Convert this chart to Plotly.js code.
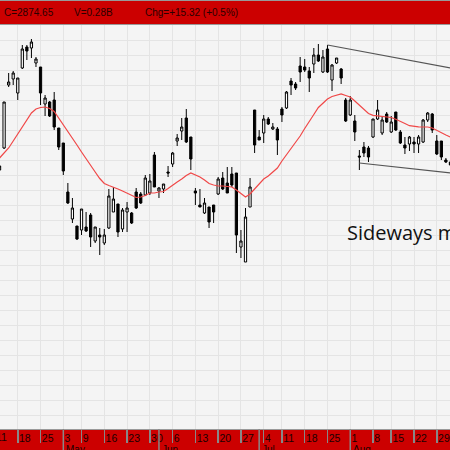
<!DOCTYPE html>
<html><head><meta charset="utf-8">
<script src="https://cdn.plot.ly/plotly-3.0.1.min.js"></script>
<style>html,body{margin:0;padding:0;background:#cc0000;}#chart{width:450px;height:450px;}</style>
</head><body><div id="chart"></div>
<script>
const dates = [
'2011-04-12','2011-04-13','2011-04-14','2011-04-15',
'2011-04-18','2011-04-19','2011-04-20','2011-04-21','2011-04-22',
'2011-04-25','2011-04-26','2011-04-27','2011-04-28','2011-04-29',
'2011-05-03','2011-05-04','2011-05-05','2011-05-06',
'2011-05-09','2011-05-10','2011-05-11','2011-05-12','2011-05-13',
'2011-05-16','2011-05-17','2011-05-18','2011-05-19','2011-05-20',
'2011-05-23','2011-05-24','2011-05-25','2011-05-26','2011-05-27',
'2011-05-30','2011-05-31','2011-06-01','2011-06-02','2011-06-03',
'2011-06-06','2011-06-07','2011-06-08','2011-06-09','2011-06-10',
'2011-06-13','2011-06-14','2011-06-15','2011-06-16','2011-06-17',
'2011-06-20','2011-06-21','2011-06-22','2011-06-23','2011-06-24',
'2011-06-27','2011-06-28','2011-06-29','2011-06-30','2011-07-01',
'2011-07-04','2011-07-05','2011-07-06','2011-07-07',
'2011-07-11','2011-07-12','2011-07-13','2011-07-14','2011-07-15',
'2011-07-18','2011-07-19','2011-07-20','2011-07-21','2011-07-22',
'2011-07-25','2011-07-26','2011-07-27','2011-07-28','2011-07-29',
'2011-08-01','2011-08-02','2011-08-03','2011-08-04','2011-08-05',
'2011-08-08','2011-08-09','2011-08-10','2011-08-11',
'2011-08-15','2011-08-16','2011-08-17','2011-08-18','2011-08-19',
'2011-08-22','2011-08-23','2011-08-24','2011-08-25','2011-08-26',
'2011-08-29','2011-08-30','2011-08-31','2011-09-01'];

const openP = [2875,2897,2960,2966,2952,2977,2998,2997,2982,2978,
2941,2943,2945,2917,2902,2853,2826,2819,2815,2818,
2830,2804,2810,2802,2817,2833,2841,2816,2833,2832,
2853,2851,2850,2852,2890,2854,2856,2873,2881,2904,
2914,2927,2908,2854,2840,2832,2838,2840,2851,2867,
2862,2871,2872,2798,2783,2838,2935,2908,2912,2926,
2916,2916,2936,2937,2964,2961,2979,2978,2974,2981,
2990,2973,2996,2965,2982,2976,2945,2930,2924,2889,
2898,2897,2908,2926,2912,2931,2913,2933,2913,2900,
2901,2903,2901,2903,2925,2931,2904,2904,2885,2883];

const highP = [2880,2943,2972,2974,2967,3000,3000,3006,2988,2978,
2950,2944,2953,2917,2902,2862,2847,2819,2836,2833,
2832,2818,2817,2816,2856,2858,2841,2837,2843,2833,
2857,2853,2870,2871,2893,2858,2861,2879,2893,2911,
2927,2936,2908,2857,2856,2847,2838,2840,2868,2873,
2878,2878,2872,2815,2837,2867,2935,2915,2930,2928,
2922,2918,2938,2954,2967,2963,2988,2986,2978,2997,
3001,2995,3000,2981,2987,2977,2947,2949,2930,2895,
2903,2899,2926,2945,2928,2933,2929,2933,2915,2908,
2909,2908,2910,2926,2933,2932,2910,2904,2887,2885];

const lowP = [2874,2896,2958,2960,2945,2976,2985,2987,2978,2940,
2929,2928,2915,2895,2870,2841,2822,2805,2810,2813,
2798,2802,2790,2800,2816,2833,2808,2813,2813,2821,
2836,2841,2849,2850,2858,2847,2852,2868,2878,2899,
2905,2902,2875,2840,2838,2831,2817,2822,2850,2855,
2852,2858,2792,2787,2783,2838,2892,2905,2902,2920,
2915,2890,2923,2936,2950,2955,2963,2973,2953,2972,
2983,2972,2972,2954,2981,2961,2923,2929,2904,2875,
2888,2883,2907,2925,2910,2922,2912,2914,2901,2891,
2894,2892,2892,2902,2923,2912,2890,2885,2882,2879];

const closeP = [2879,2943,2963,2972,2967,2996,2994,3003,2986,2952,
2947,2929,2918,2898,2874,2842,2837,2806,2836,2814,
2808,2818,2808,2810,2849,2846,2813,2835,2837,2822,
2837,2842,2867,2864,2858,2857,2861,2872,2892,2907,
2918,2903,2886,2852,2838,2842,2823,2833,2866,2856,
2852,2860,2810,2804,2828,2858,2900,2905,2926,2921,
2918,2905,2930,2953,2960,2957,2973,2975,2967,2990,
2984,2988,2973,2980,2987,2967,2924,2945,2913,2888,
2892,2888,2926,2935,2925,2923,2923,2915,2902,2897,
2908,2901,2908,2925,2932,2915,2891,2888,2883,2880];

const movingAvg = [2887,2892,2897,2904,2911,2918,2925,2932,2936,2937.5,
2938,2936.5,2933.5,2927,2920,2914,2907,2900,2893,2886,
2879,2873,2866.5,2861.5,2859.5,2858,2856,2854,2852,2850,
2847.5,2848,2849.5,2852,2852,2853,2853.5,2856.5,2860,2863,
2866,2869.5,2872,2870,2868,2865,2861.5,2860,2859,2859,
2858.5,2858,2855,2851.5,2848,2851,2856,2861,2866,2869,
2873,2877,2884,2890,2896.5,2903,2909,2916.5,2924,2930.5,
2937.5,2942,2946,2948.5,2950,2951,2949.5,2948,2944,2939.5,
2935.5,2931.5,2929.7,2929,2928.8,2928.3,2927.5,2925.7,2924,2921.5,
2919.3,2918.6,2918.2,2918,2918,2917,2914.5,2912.5,2910,2908];

const weekTickDates = ['2011-04-18','2011-04-25','2011-05-03','2011-05-09','2011-05-16','2011-05-23','2011-05-30',
'2011-06-06','2011-06-13','2011-06-20','2011-06-27','2011-07-04','2011-07-11','2011-07-18','2011-07-25',
'2011-08-01','2011-08-08','2011-08-15','2011-08-22','2011-08-29'];
const weekTickText = ['18','25','3','9','16','23','30','6','13','20','27','4','11','18','25','1','8','15','22','29'];
const monthTickDates = ['2011-05-03','2011-06-01','2011-07-01','2011-08-01'];
const monthTickText = ['May','Jun','Jul','Aug'];

const upperTrendX = ['2011-07-25','2011-09-01'];
const upperTrendY = [3000, 2977];
const lowerTrendX = ['2011-08-03','2011-09-01'];
const lowerTrendY = [2882, 2872];

const headerTexts = ['C=2874.65','V=0.28B','Chg=+15.32 (+0.5%)'];
const headerX = [2, 72, 143];
const noteText = 'Sideways market';

const plotH = 404;
const traces = [
  {type:'scatter', mode:'lines', x:dates, y:movingAvg, line:{color:'#f04848', width:1.2}, hoverinfo:'skip'},
  {type:'candlestick', x:dates, open:openP, high:highP, low:lowP, close:closeP,
   increasing:{line:{color:'#000', width:1}, fillcolor:'#ffffff'},
   decreasing:{line:{color:'#000', width:1}, fillcolor:'#000000'},
   whiskerwidth:0, hoverinfo:'skip'},
  {type:'scatter', mode:'lines', x:upperTrendX, y:upperTrendY, line:{color:'#555', width:1.2}, hoverinfo:'skip'},
  {type:'scatter', mode:'lines', x:lowerTrendX, y:lowerTrendY, line:{color:'#555', width:1.2}, hoverinfo:'skip'}
];

const annotations = [];
headerTexts.forEach((t,i)=>annotations.push({text:t, xref:'paper', yref:'paper', x:headerX[i]/450, y:1, yshift:12.5,
  xanchor:'left', yanchor:'middle', showarrow:false, font:{family:'Liberation Sans, Arial, sans-serif', size:10, color:'#2a0000'}}));
monthTickDates.forEach((d,i)=>annotations.push({text:monthTickText[i], xref:'x', yref:'paper', x:d, y:-20/plotH,
  xanchor:'left', yanchor:'middle', xshift:1, showarrow:false, font:{family:'Liberation Sans, Arial, sans-serif', size:10, color:'#1a0000'}}));
annotations.push({text:'11', xref:'paper', yref:'paper', x:0, y:-8/plotH, xanchor:'left', yanchor:'middle', xshift:-6,
  showarrow:false, font:{family:'Liberation Sans, Arial, sans-serif', size:10.5, color:'#1a0000'}});
annotations.push({text:noteText, xref:'paper', yref:'paper', x:345/450, y:(429-232)/plotH, xanchor:'left', yanchor:'middle',
  showarrow:false, font:{family:'Open Sans, sans-serif', size:20, color:'#111'}});

const shapes = monthTickDates.map(d=>({type:'line', xref:'x', yref:'paper', x0:d, x1:d, y0:0, y1:-21/plotH,
  line:{color:'#888', width:1.5}}));
shapes.push({type:'line', xref:'paper', yref:'paper', x0:0, x1:1, y0:1+25/plotH, y1:1+25/plotH, line:{color:'#999', width:2}});

const layout = {
  width:450, height:450,
  margin:{l:0, r:0, t:25, b:21, pad:0},
  paper_bgcolor:'#cc0000', plot_bgcolor:'#f4f4f4',
  showlegend:false, boxgap:0.3,
  xaxis:{type:'category', categoryorder:'array', categoryarray:dates, range:[0.1, 98.9],
    tickmode:'array', tickvals:weekTickDates, ticktext:weekTickText, tickangle:0,
    ticks:'outside', ticklen:13, tickwidth:1.5, tickcolor:'#888',
    ticklabelposition:'outside right', ticklabelshift:0, ticklabelstandoff:-1,
    tickfont:{family:'Liberation Sans, Arial, sans-serif', size:10.5, color:'#1a0000'},
    showgrid:true, gridcolor:'#e4e4e4', gridwidth:1,
    showline:true, mirror:true, linecolor:'#999', linewidth:1,
    rangeslider:{visible:false}, fixedrange:true},
  yaxis:{range:[2616, 3020], tickmode:'linear', tick0:3020, dtick:15, showticklabels:false, ticks:'',
    showgrid:true, gridcolor:'#e4e4e4', gridwidth:1, zeroline:false, showline:false, fixedrange:true},
  annotations:annotations, shapes:shapes
};
Plotly.newPlot('chart', traces, layout, {staticPlot:true, displayModeBar:false});
</script></body></html>
